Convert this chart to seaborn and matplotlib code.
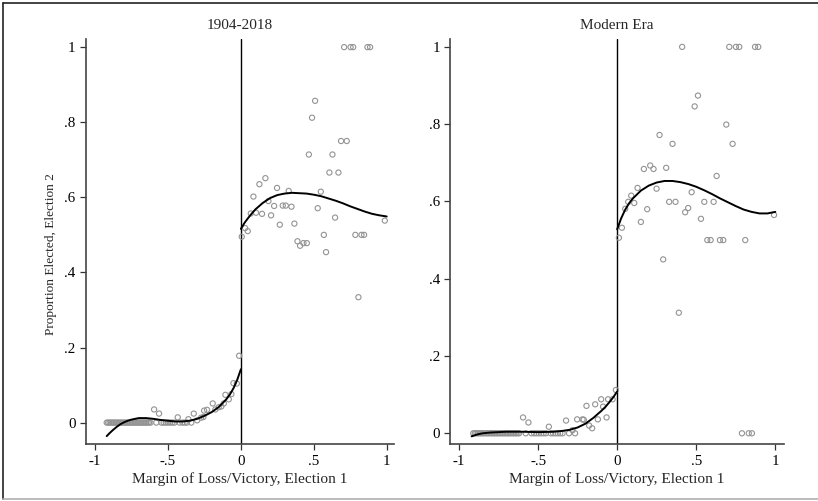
import matplotlib
matplotlib.use("Agg")
import matplotlib.pyplot as plt
from matplotlib.lines import Line2D
import seaborn as sns
import pandas as pd

# ---------------- data ----------------
titles = ["1904-2018", "Modern Era"]
x_ticks = [-1, -0.5, 0, 0.5, 1]
x_tick_labels = ["-1", "-.5", "0", ".5", "1"]
y_ticks = [0, 0.2, 0.4, 0.6, 0.8, 1]
y_tick_labels = ["0", ".2", ".4", ".6", ".8", "1"]
x_label = "Margin of Loss/Victory, Election 1"
y_label = "Proportion Elected, Election 2"

# Panel 1 (1904-2018): binned means
p1_x = [-0.92, -0.91, -0.90, -0.89, -0.88, -0.87, -0.86, -0.85, -0.84, -0.83,
        -0.82, -0.81, -0.80, -0.79, -0.78, -0.77, -0.76, -0.75, -0.74, -0.73,
        -0.72, -0.71, -0.70, -0.69, -0.68, -0.67, -0.66, -0.65, -0.64, -0.63,
        -0.62, -0.58, -0.545, -0.53, -0.515, -0.50, -0.485, -0.47, -0.455,
        -0.42, -0.40, -0.385, -0.37, -0.34,
        -0.595, -0.561, -0.433, -0.323, -0.36, -0.30, -0.273, -0.257,
        -0.252, -0.232, -0.193, -0.175, -0.152, -0.134, -0.117, -0.106,
        -0.083, -0.065, -0.051, -0.028, -0.012,
        0.708, 0.752, 0.770, 0.868, 0.886, 0.509, 0.488, 0.687, 0.726, 0.466,
        0.628, 0.607, 0.669, 0.168, 0.127, 0.086, 0.248, 0.328, 0.548, 0.189,
        0.068, 0.104, 0.145, 0.207, 0.228, 0.287, 0.308, 0.347, 0.267, 0.367,
        0.527, 0.646, 0.569, 0.785, 0.827, 0.845, 0.987, 0.029, 0.047, 0.006,
        0.388, 0.406, 0.429, 0.452, 0.584, 0.806]
p1_y = [0.0] * 44 + [
        0.035, 0.024, 0.014, 0.024, 0.009, 0.006, 0.013, 0.015,
        0.032, 0.034, 0.051, 0.035, 0.041, 0.043, 0.051, 0.074,
        0.062, 0.076, 0.105, 0.104, 0.178,
        1.0, 1.0, 1.0, 1.0, 1.0, 0.857, 0.812, 0.750, 0.750, 0.714,
        0.714, 0.666, 0.666, 0.651, 0.635, 0.602, 0.625, 0.617, 0.615, 0.590,
        0.557, 0.559, 0.556, 0.552, 0.577, 0.578, 0.578, 0.575, 0.527, 0.530,
        0.571, 0.546, 0.500, 0.500, 0.500, 0.500, 0.538, 0.518, 0.510, 0.495,
        0.483, 0.471, 0.478, 0.478, 0.454, 0.334]

# Panel 1 fitted polynomial
p1_fit_left_x = [-0.92, -0.90, -0.875, -0.85, -0.825, -0.80, -0.775, -0.75, -0.725,
                 -0.70, -0.65, -0.60, -0.55, -0.50, -0.45, -0.40, -0.35, -0.30,
                 -0.25, -0.20, -0.15, -0.10, -0.075, -0.05, -0.025, 0.0]
p1_fit_left_y = [-0.036, -0.028, -0.019, -0.011, -0.004, 0.001, 0.005, 0.008, 0.010,
                 0.012, 0.012, 0.010, 0.007, 0.005, 0.003, 0.003, 0.005, 0.010,
                 0.018, 0.028, 0.042, 0.062, 0.075, 0.092, 0.114, 0.142]
p1_fit_right_x = [0.0, 0.025, 0.05, 0.075, 0.10, 0.15, 0.20, 0.25, 0.30, 0.35, 0.40, 0.45,
                  0.50, 0.55, 0.60, 0.65, 0.70, 0.75, 0.80, 0.85, 0.90, 0.95, 1.0]
p1_fit_right_y = [0.516, 0.532, 0.545, 0.557, 0.568, 0.585, 0.598, 0.606, 0.610, 0.612,
                  0.611, 0.610, 0.607, 0.603, 0.597, 0.591, 0.584, 0.576, 0.569, 0.562,
                  0.556, 0.552, 0.549]

# Panel 2 (Modern Era): binned means
p2_x = [-0.91, -0.90, -0.89, -0.88, -0.87, -0.86, -0.85, -0.84, -0.83, -0.82,
        -0.81, -0.80, -0.79, -0.78, -0.77, -0.76, -0.75, -0.74, -0.73, -0.72,
        -0.71, -0.70, -0.69, -0.68, -0.67, -0.66, -0.65, -0.64, -0.63, -0.62,
        -0.578, -0.542, -0.525, -0.51, -0.495, -0.48, -0.465, -0.45,
        -0.42, -0.405, -0.39, -0.375, -0.36, -0.345, -0.304, -0.266,
        -0.595, -0.561, -0.432, -0.323, -0.282, -0.253, -0.219, -0.211,
        -0.194, -0.177, -0.158, -0.139, -0.122, -0.101, -0.089, -0.067,
        -0.057, -0.029, -0.008,
        0.411, 0.709, 0.751, 0.772, 0.872, 0.892, 0.511, 0.490, 0.690, 0.730,
        0.268, 0.350, 0.209, 0.230, 0.169, 0.310, 0.629, 0.129, 0.249, 0.089,
        0.070, 0.108, 0.051, 0.190, 0.150, 0.030, 0.011, 0.329, 0.369, 0.471,
        0.449, 0.430, 0.551, 0.610, 0.530, 0.570, 0.591, 0.650, 0.671, 0.810,
        0.992, 0.291, 0.390, 0.789, 0.832, 0.852]
p2_y = [0.0] * 46 + [
        0.041, 0.028, 0.017, 0.033, 0.008, 0.036, 0.036, 0.035,
        0.071, 0.020, 0.013, 0.075, 0.036, 0.088, 0.069, 0.041,
        0.088, 0.088, 0.112,
        1.0, 1.0, 1.0, 1.0, 1.0, 1.0, 0.874, 0.846, 0.799, 0.749,
        0.772, 0.749, 0.693, 0.684, 0.684, 0.687, 0.666, 0.635, 0.633, 0.615,
        0.599, 0.596, 0.581, 0.580, 0.547, 0.532, 0.506, 0.599, 0.599, 0.624,
        0.583, 0.572, 0.599, 0.599, 0.555, 0.500, 0.500, 0.500, 0.500, 0.500,
        0.565, 0.450, 0.312, 0.0, 0.0, 0.0]

# Panel 2 fitted polynomial
p2_fit_left_x = [-0.92, -0.90, -0.875, -0.85, -0.80, -0.70, -0.60, -0.50, -0.40, -0.35,
                 -0.30, -0.25, -0.20, -0.15, -0.10, -0.075, -0.05, -0.025, 0.0]
p2_fit_left_y = [-0.008, -0.005, -0.002, 0.000, 0.002, 0.004, 0.004, 0.003, 0.004, 0.006,
                 0.009, 0.015, 0.025, 0.040, 0.058, 0.068, 0.080, 0.093, 0.108]
p2_fit_right_x = [0.0, 0.025, 0.05, 0.075, 0.10, 0.15, 0.20, 0.25, 0.30, 0.35, 0.40, 0.45,
                  0.50, 0.55, 0.60, 0.65, 0.70, 0.75, 0.80, 0.85, 0.90, 0.95, 1.0]
p2_fit_right_y = [0.528, 0.556, 0.578, 0.595, 0.608, 0.628, 0.641, 0.649, 0.653, 0.653,
                  0.650, 0.645, 0.638, 0.629, 0.619, 0.608, 0.598, 0.588, 0.579, 0.573,
                  0.569, 0.569, 0.573]

# ---------------- styling ----------------
sns.set_style("ticks")
plt.rcParams["font.family"] = ["Liberation Serif", "DejaVu Serif"]
plt.rcParams["font.size"] = 10

W, H = 818, 501
fig = plt.figure(figsize=(W / 100, H / 100), dpi=100)
fig.patch.set_facecolor("white")

# axes placement in pixels: (left, top, right, bottom)
boxes = [(86, 38.5, 394, 444.3), (450.3, 38.5, 784, 444.3)]
xlims = [(-1.062, 1.050), (-1.055, 1.055)]
ylims = [(-0.0578, 1.023), (-0.0285, 1.0217)]

panels = [
    (p1_x, p1_y, p1_fit_left_x, p1_fit_left_y, p1_fit_right_x, p1_fit_right_y),
    (p2_x, p2_y, p2_fit_left_x, p2_fit_left_y, p2_fit_right_x, p2_fit_right_y),
]

for i, (box, panel) in enumerate(zip(boxes, panels)):
    l, t, r, b = box
    ax = fig.add_axes([l / W, 1 - b / H, (r - l) / W, (b - t) / H])
    px, py, flx, fly, frx, fry = panel
    pts = pd.DataFrame({"x": px, "y": py})
    sns.scatterplot(data=pts, x="x", y="y", ax=ax, marker="o", s=14,
                    facecolor="none", edgecolor="#939393", linewidth=0.8,
                    zorder=2, legend=False)
    fl = pd.DataFrame({"x": flx, "y": fly})
    fr = pd.DataFrame({"x": frx, "y": fry})
    sns.lineplot(data=fl, x="x", y="y", ax=ax, color="black", lw=1.4, zorder=3)
    sns.lineplot(data=fr, x="x", y="y", ax=ax, color="black", lw=1.4, zorder=3)
    ax.axvline(0, color="black", lw=1.0, zorder=1)

    ax.set_xlim(*xlims[i])
    ax.set_ylim(*ylims[i])
    ax.set_xticks(x_ticks)
    ax.set_xticklabels(x_tick_labels)
    ax.set_yticks(y_ticks)
    ax.set_yticklabels(y_tick_labels)
    ax.tick_params(direction="out", length=4.5, width=0.9, pad=3,
                   labelsize=10.8, color="#333333", labelcolor="black")
    sns.despine(ax=ax)
    for s in ("left", "bottom"):
        ax.spines[s].set_linewidth(1.2)
        ax.spines[s].set_color("#444444")
    ax.set_facecolor("white")
    ax.set_title(titles[i], fontsize=11, pad=7)
    ax.set_xlabel(x_label, fontsize=11.1, va="center")
    ax.xaxis.set_label_coords(0.5, -(479 - b) / (b - t))
    if i == 0:
        ax.set_ylabel(y_label, fontsize=9.6, va="center")
        ax.yaxis.set_label_coords((51.5 - l) / (r - l), (b - 254) / (b - t))
    else:
        ax.set_ylabel("")

# outer frame
fig.add_artist(Line2D([3 / W, 1], [1 - 3 / H, 1 - 3 / H], color="#222222", lw=1.2))
fig.add_artist(Line2D([3 / W, 3 / W], [1 - 3 / H, 1 - 499 / H], color="#222222", lw=1.2))
fig.add_artist(Line2D([3 / W, 1], [1 - 499 / H, 1 - 499 / H], color="#b0b0b0", lw=1.2))

fig.savefig("out.png", dpi=100, facecolor="white")
